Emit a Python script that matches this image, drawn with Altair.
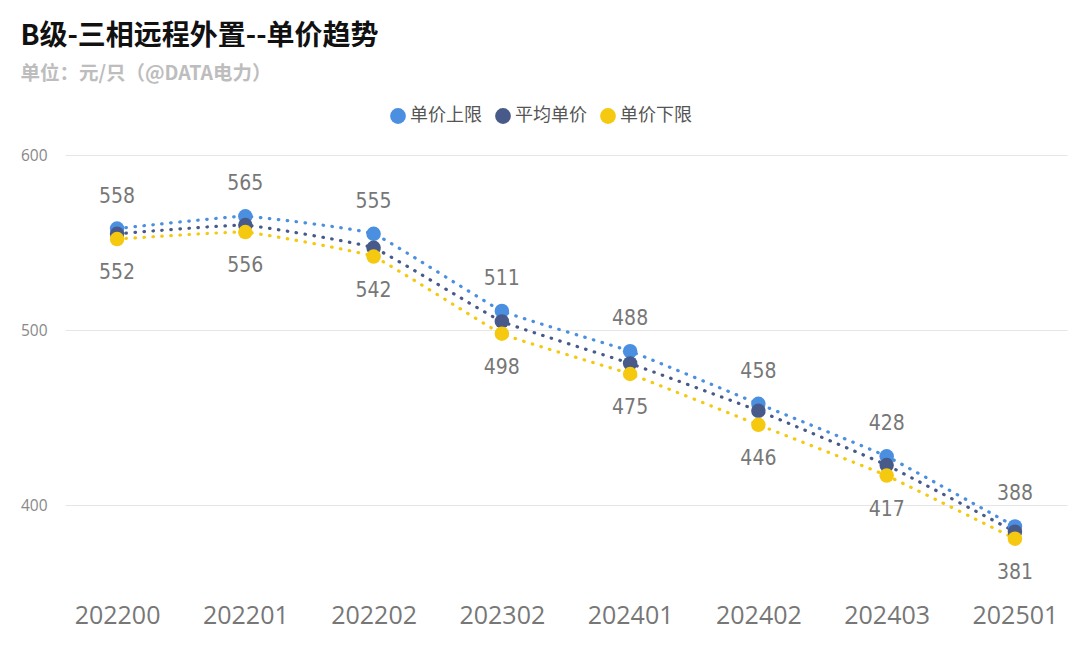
import altair as alt
import pandas as pd

periods = ["202200", "202201", "202202", "202302", "202401", "202402", "202403", "202501"]
upper = [558, 565, 555, 511, 488, 458, 428, 388]
average = [555, 560, 547, 505, 481, 454, 423, 385]
lower = [552, 556, 542, 498, 475, 446, 417, 381]
series_names = ["单价上限", "平均单价", "单价下限"]
series_colors = ["#4A8FE0", "#485A8A", "#F5C90F"]

rows = []
for name, vals in zip(series_names, [upper, average, lower]):
    for p, v in zip(periods, vals):
        rows.append({"period": p, "series": name, "value": v})
df = pd.DataFrame(rows)

x_enc = alt.X("period:N", sort=periods, title=None,
              scale=alt.Scale(type="point", padding=0.406),
              axis=alt.Axis(labelAngle=0, labelFontSize=25, labelColor="#777777",
                            labelFont="Open Sans", labelPadding=10, ticks=False,
                            domain=False, grid=False))
y_enc = alt.Y("value:Q", title=None,
              scale=alt.Scale(domain=[350, 600], nice=False, zero=False),
              axis=alt.Axis(values=[400, 500, 600], labelFontSize=15.5, labelColor="#888888",
                            labelFont="Open Sans", labelPadding=18, ticks=False, domain=False,
                            grid=True, gridColor="#e6e6e6", gridWidth=1))
color_scale = alt.Scale(domain=series_names, range=series_colors)
legend = alt.Legend(title=None, orient="none", legendX=324, legendY=-48,
                    direction="horizontal", symbolType="circle",
                    symbolSize=250, symbolOpacity=1, symbolStrokeWidth=0,
                    labelFontSize=18, labelColor="#555555", labelFont="Noto Sans CJK SC",
                    columnPadding=12, labelOffset=3)

base = alt.Chart(df)

lines = base.mark_line(strokeDash=[0.5, 8.5], strokeWidth=3.2, strokeCap="round",
                       interpolate="cardinal", tension=0.7).encode(
    x=x_enc, y=y_enc,
    color=alt.Color("series:N", scale=color_scale, legend=legend),
    detail="series:N",
)

points = base.mark_point(filled=True, opacity=1, size=210, shape="circle").encode(
    x=x_enc, y=y_enc,
    color=alt.Color("series:N", scale=color_scale, legend=legend),
)

num_font = "DejaVu Sans Condensed, Roboto, sans-serif"
label_up = base.transform_filter(alt.datum.series == "单价上限").mark_text(
    dy=-32, fontSize=21, color="#777777", font=num_font).encode(
    x=x_enc, y=y_enc, text="value:Q")
label_low = base.transform_filter(alt.datum.series == "单价下限").mark_text(
    dy=34, fontSize=21, color="#777777", font=num_font).encode(
    x=x_enc, y=y_enc, text="value:Q")

chart = alt.layer(lines, points, label_up, label_low).properties(
    width=1002, height=438,
    background="#ffffff",
    title=alt.TitleParams(
        text="B级-三相远程外置--单价趋势",
        subtitle="单位：元/只（@DATA电力）",
        anchor="start", frame="bounds", orient="top",
        font="Noto Sans CJK SC", fontSize=28, fontWeight="bold", color="#111111",
        subtitleFont="Noto Sans CJK SC", subtitleFontSize=19.5, subtitleFontWeight="bold",
        subtitleColor="#bdbdbd", subtitlePadding=14, offset=24),
    autosize=alt.AutoSizeParams(type="none"),
    padding={"left": 57, "top": 147, "right": 5, "bottom": 60},
).configure_view(stroke=None)

chart.save("out.html", embed_options={"renderer": "svg", "actions": False})
